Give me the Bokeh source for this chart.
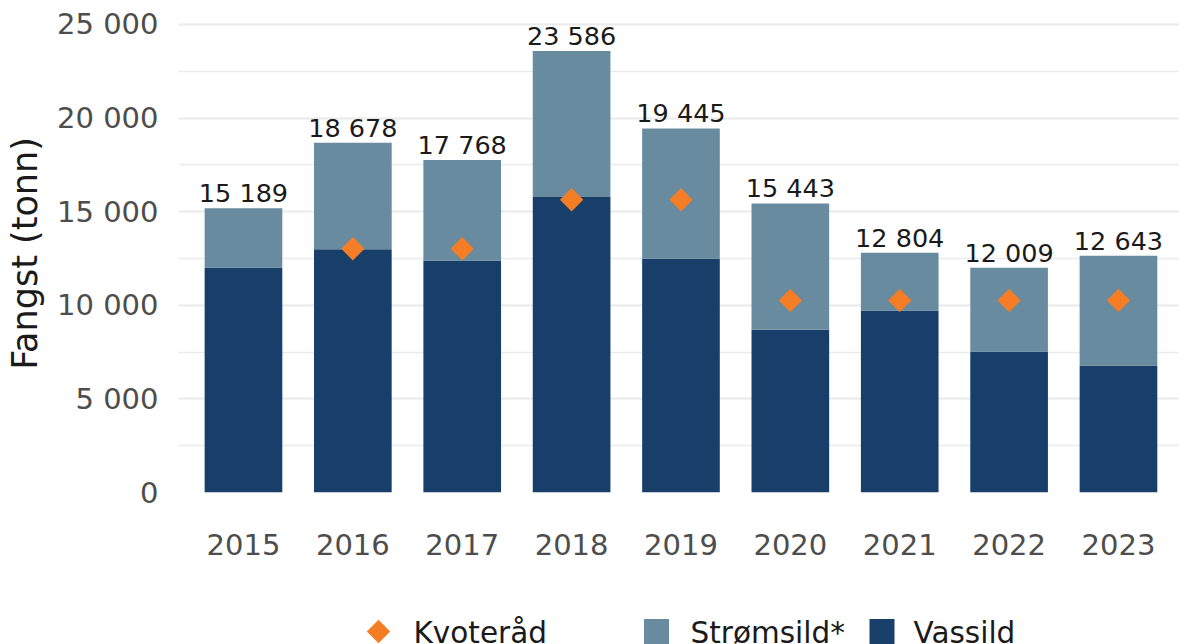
import math
from bokeh.plotting import figure
from bokeh.models import (Range1d, FixedTicker, SingleIntervalTicker, ColumnDataSource,
                          CustomJSTickFormatter)
from bokeh.layouts import column
from bokeh.embed import file_html
from bokeh.resources import INLINE
from bokeh.core.properties import value

# ---------------- data ----------------
years = ["2015", "2016", "2017", "2018", "2019", "2020", "2021", "2022", "2023"]
vassild = [12020, 12990, 12390, 15780, 12480, 8690, 9720, 7530, 6780]
total = [15189, 18678, 17768, 23586, 19445, 15443, 12804, 12009, 12643]
kvoterad = [None, 13020, 13020, 15640, 15640, 10260, 10260, 10260, 10260]
legend_labels = ["Kvoteråd", "Strømsild*", "Vassild"]
y_title = "Fangst (tonn)"

FONT = "DejaVu Sans"
DARK = "#173f6a"
LIGHT = "#688ba0"
ORANGE = "#f47d25"
GRID = "#ebebeb"

idx = list(range(len(years)))
stromsild = [t - v for t, v in zip(total, vassild)]
labels = [f"{t:,}".replace(",", " ") for t in total]

src = ColumnDataSource(dict(x=idx, vassild=vassild, strom=stromsild, total=total, label=labels))
kx = [i for i, k in enumerate(kvoterad) if k is not None]
ky = [k for k in kvoterad if k is not None]
ksrc = ColumnDataSource(dict(x=kx, y=ky))

W = 1179

# ---------------- main chart ----------------
p = figure(width=W, height=608, output_backend="svg", toolbar_location=None,
           x_range=Range1d(-0.594, 8.558), y_range=Range1d(0, 25534),
           min_border_left=178, min_border_right=0, min_border_top=14, min_border_bottom=116)
p.outline_line_color = None

p.vbar_stack(["vassild", "strom"], x="x", width=0.71, source=src,
             fill_color=[DARK, LIGHT], line_color=None)

p.text(x="x", y="total", text="label", source=src, text_align="center",
       text_baseline="bottom", y_offset=0, text_font=value(FONT),
       text_font_size="25.5px", text_color="#1a1a1a")

p.scatter(x="x", y="y", source=ksrc, marker="square", angle=math.pi / 4, size=16.5,
          fill_color=ORANGE, line_color=None)

# x axis
p.xaxis.ticker = FixedTicker(ticks=idx)
p.xaxis.major_label_overrides = {i: y for i, y in enumerate(years)}
p.xaxis.axis_line_color = None
p.xaxis.major_tick_line_color = None
p.xaxis.minor_tick_line_color = None
p.xaxis.major_label_text_font = FONT
p.xaxis.major_label_text_font_size = "29px"
p.xaxis.major_label_text_color = "#4d4d4d"
p.xaxis.major_label_standoff = 35

# y axis
p.yaxis.ticker = SingleIntervalTicker(interval=5000, num_minor_ticks=2)
p.yaxis.formatter = CustomJSTickFormatter(
    code="return tick.toFixed(0).replace(/\\B(?=(\\d{3})+(?!\\d))/g, ' ');")
p.yaxis.axis_line_color = None
p.yaxis.major_tick_line_color = None
p.yaxis.minor_tick_line_color = None
p.yaxis.major_label_text_font = FONT
p.yaxis.major_label_text_font_size = "29px"
p.yaxis.major_label_text_color = "#4d4d4d"
p.yaxis.major_label_standoff = 14
p.yaxis.axis_label = y_title
p.yaxis.axis_label_text_font = FONT
p.yaxis.axis_label_text_font_size = "35px"
p.yaxis.axis_label_text_font_style = "normal"
p.yaxis.axis_label_text_color = "#1a1a1a"
p.yaxis.axis_label_standoff = 9

p.xgrid.grid_line_color = None
p.ygrid.grid_line_color = GRID
p.ygrid.grid_line_width = 2.2
p.ygrid.minor_grid_line_color = GRID
p.ygrid.minor_grid_line_width = 1.4

# ---------------- legend strip (frame aligned with the chart frame: page px 178..1179) ----------------
leg = figure(width=W, height=36, output_backend="svg", toolbar_location=None,
             x_range=Range1d(178, 1179), y_range=Range1d(0, 36),
             x_axis_location=None, y_axis_location=None,
             min_border_left=178, min_border_right=0, min_border_top=0, min_border_bottom=0)
leg.outline_line_color = None
leg.xgrid.grid_line_color = None
leg.ygrid.grid_line_color = None

leg.scatter(x=[378], y=[13], marker="square", angle=math.pi / 4, size=16.5,
            fill_color=ORANGE, line_color=None)
leg.rect(x=[656, 881.5], y=[13, 13], width=25, height=25, fill_color=[LIGHT, DARK], line_color=None)
leg.text(x=[413, 690, 913], y=[12, 12, 12], text=legend_labels, text_baseline="middle",
         text_align="left", text_font=value(FONT), text_font_size="29.5px", text_color="#1a1a1a")

layout = column(p, leg, spacing=0)
open("out.html", "w").write(file_html(layout, INLINE))
